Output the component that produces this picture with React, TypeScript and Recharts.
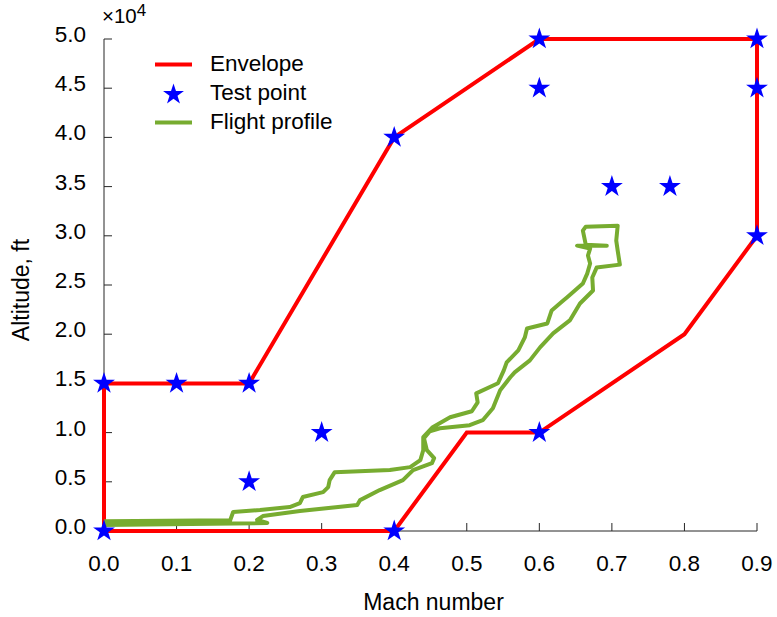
import { ScatterChart, Scatter, XAxis, YAxis, Legend, Label } from 'recharts';

const xTicks = [0, 0.1, 0.2, 0.3, 0.4, 0.5, 0.6, 0.7, 0.8, 0.9];
const yTicks = [0, 5000, 10000, 15000, 20000, 25000, 30000, 35000, 40000, 45000, 50000];

const envelopeMach = [0, 0, 0.2, 0.4, 0.6, 0.9, 0.9, 0.8, 0.6, 0.5, 0.4, 0];
const envelopeAlt = [0, 15000, 15000, 40000, 50000, 50000, 30000, 20000, 10000, 10000, 0, 0];

const testMach = [0, 0, 0.1, 0.2, 0.2, 0.3, 0.4, 0.4, 0.6, 0.6, 0.6, 0.7, 0.78, 0.9, 0.9, 0.9];
const testAlt = [0, 15000, 15000, 15000, 5000, 10000, 0, 40000, 50000, 45000, 10000, 35000, 35000, 50000, 45000, 30000];

const profileMach = [
  0.0, 0.174, 0.178, 0.215, 0.256, 0.27, 0.274, 0.302, 0.309, 0.311, 0.318, 0.394, 0.422, 0.436, 0.44,
  0.44, 0.453, 0.477, 0.507, 0.515, 0.513, 0.543, 0.551, 0.555, 0.571, 0.58, 0.583, 0.611, 0.617, 0.633,
  0.638, 0.66, 0.666, 0.67, 0.667, 0.67, 0.652, 0.693, 0.664, 0.66, 0.664, 0.708, 0.706, 0.708, 0.711,
  0.679, 0.673, 0.674, 0.656, 0.642, 0.619, 0.601, 0.587, 0.566, 0.56, 0.546, 0.536, 0.522, 0.504, 0.463,
  0.449, 0.441, 0.445, 0.455, 0.452, 0.426, 0.412, 0.38, 0.353, 0.349, 0.27, 0.219, 0.211, 0.225, 0.0,
];
const profileAlt = [
  1000, 1100, 1930, 2130, 2430, 2840, 3450, 3950, 4460, 5170, 5980, 6190, 6490, 7200, 8210,
  9530, 10550, 11560, 12170, 13080, 13990, 15010, 16330, 17140, 18350, 19670, 20580, 21090, 22410, 23420,
  23730, 25150, 26160, 27180, 27990, 28700, 29000, 29000, 29100, 30520, 30930, 31030, 29510, 28490, 27070,
  26770, 25760, 24440, 23120, 21400, 20080, 18660, 17340, 16120, 15620, 14300, 12470, 11260, 10750, 10440,
  10140, 9430, 8210, 7400, 6900, 6190, 5170, 4160, 3140, 2640, 2030, 1520, 1120, 810, 610,
];

const zip = (xs: number[], ys: number[]) => xs.map((x, i) => ({ x, y: ys[i] }));
const envelope = zip(envelopeMach, envelopeAlt);
const testPoints = zip(testMach, testAlt);
const profile = zip(profileMach, profileAlt);

const FONT = "'Liberation Sans', Arial, Helvetica, sans-serif";
const AXIS = '#262626';
const RED = '#FF0000';
const BLUE = '#0000FF';
const GREEN = '#77AC30';

function starPath(cx: number, cy: number, R: number) {
  const r = R * 0.382;
  const pts: string[] = [];
  for (let i = 0; i < 10; i++) {
    const a = -Math.PI / 2 + (i * Math.PI) / 5;
    const rad = i % 2 === 0 ? R : r;
    pts.push(`${cx + rad * Math.cos(a)},${cy + rad * Math.sin(a)}`);
  }
  return `M${pts.join('L')}Z`;
}

const Star = (props: any) => <path d={starPath(props.cx, props.cy, 11.5)} fill={BLUE} />;

const LegendBox = () => (
  <div style={{ fontFamily: FONT, fontSize: 22.5, color: '#000', lineHeight: '28.5px' }}>
    <div style={{ display: 'flex', alignItems: 'center' }}>
      <svg width={55} height={29}>
        <line x1={0} x2={37} y1={14.5} y2={14.5} stroke={RED} strokeWidth={4} />
      </svg>
      <span>Envelope</span>
    </div>
    <div style={{ display: 'flex', alignItems: 'center' }}>
      <svg width={55} height={29}>
        <path d={starPath(18.5, 15.5, 11)} fill={BLUE} />
      </svg>
      <span>Test point</span>
    </div>
    <div style={{ display: 'flex', alignItems: 'center' }}>
      <svg width={55} height={29}>
        <line x1={0} x2={37} y1={14.5} y2={14.5} stroke={GREEN} strokeWidth={4} />
      </svg>
      <span>Flight profile</span>
    </div>
  </div>
);

export default function App() {
  return (
    <div style={{ position: 'absolute', left: 0, top: 0 }}>
      <ScatterChart width={777} height={617} margin={{ top: 39, right: 20, left: 0, bottom: 0 }}>
        <XAxis
          type="number"
          dataKey="x"
          domain={[0, 0.9]}
          ticks={xTicks}
          tickFormatter={(v: number) => v.toFixed(1)}
          height={86}
          tickSize={-8}
          tickMargin={32}
          stroke={AXIS}
          tick={{ fill: '#000', fontSize: 22.5, fontFamily: FONT }}
        >
          <Label
            content={({ viewBox }: any) => (
              <text
                x={viewBox.x + viewBox.width / 2 + 3}
                y={610}
                textAnchor="middle"
                fontSize={23}
                fontFamily={FONT}
                fill="#000"
              >
                Mach number
              </text>
            )}
          />
        </XAxis>
        <YAxis
          type="number"
          dataKey="y"
          domain={[0, 50000]}
          ticks={yTicks}
          tickFormatter={(v: number) => (v / 10000).toFixed(1)}
          width={104}
          tickSize={-8}
          tickMargin={26}
          stroke={AXIS}
          tick={{ fill: '#000', fontSize: 22.5, fontFamily: FONT, dy: -5 }}
        >
          <Label
            content={({ viewBox }: any) => (
              <g>
                <text
                  x={21}
                  y={viewBox.y + viewBox.height / 2 + 5}
                  transform={`rotate(-90, 21, ${viewBox.y + viewBox.height / 2 + 5})`}
                  textAnchor="middle"
                  dominantBaseline="central"
                  fontSize={23}
                  fontFamily={FONT}
                  fill="#000"
                >
                  Altitude, ft
                </text>
                <text x={viewBox.x + viewBox.width - 2} y={23} fontSize={20.5} fontFamily={FONT} fill="#000">
                  ×10
                  <tspan dy={-7} fontSize={17}>
                    4
                  </tspan>
                </text>
              </g>
            )}
          />
        </YAxis>
        <Legend
          layout="vertical"
          align="center"
          verticalAlign="middle"
          content={() => <LegendBox />}
          wrapperStyle={{ left: 155, top: 50, width: 'auto' }}
        />
        <Scatter
          name="Envelope"
          data={envelope}
          line={{ stroke: RED, strokeWidth: 4 }}
          shape={() => <g />}
          isAnimationActive={false}
        />
        <Scatter
          name="Flight profile"
          data={profile}
          line={{ stroke: GREEN, strokeWidth: 4, strokeLinejoin: 'round' }}
          shape={() => <g />}
          isAnimationActive={false}
        />
        <Scatter name="Test point" data={testPoints} shape={Star} isAnimationActive={false} />
      </ScatterChart>
    </div>
  );
}
